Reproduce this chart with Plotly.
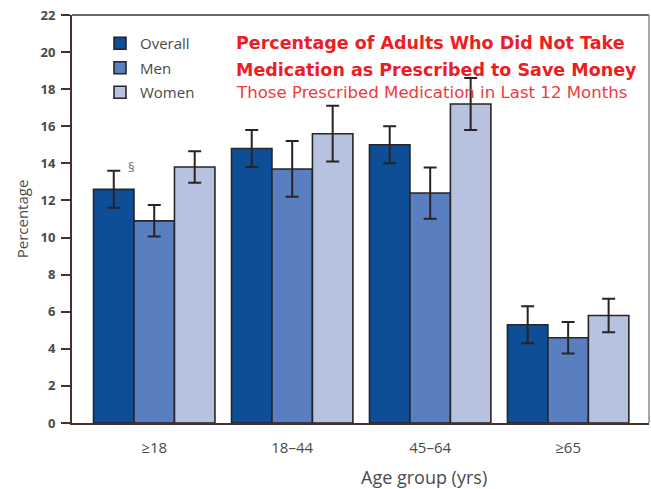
import plotly.graph_objects as go

age_groups = ["≥18", "18–44", "45–64", "≥65"]
series_names = ["Overall", "Men", "Women"]
overall = [12.6, 14.8, 15.0, 5.3]
men = [10.9, 13.7, 12.4, 4.6]
women = [13.8, 15.6, 17.2, 5.8]
overall_ci = [1.0, 1.0, 1.0, 1.0]
men_ci = [0.85, 1.5, 1.38, 0.85]
women_ci = [0.85, 1.5, 1.4, 0.9]
y_ticks = list(range(0, 23, 2))

colors = ["#0d4e97", "#5a7fc1", "#b6c2df"]
values = [overall, men, women]
errors = [overall_ci, men_ci, women_ci]

AXIS_COLOR = "#4a302c"
TEXT_GRAY = "#4a4a4a"
BODY_FONT = "Open Sans"

# plotting-area geometry in pixels, used to place paper-referenced items
W, H = 651, 489
L, R, T, B = 72, 2, 15, 66
PW, PH = W - L - R, H - T - B


def px(x):
    return (x - L) / PW


def py(y):
    return 1 - (y - T) / PH


fig = go.Figure()
for i, name in enumerate(series_names):
    fig.add_trace(go.Bar(
        name=name,
        x=age_groups,
        y=values[i],
        marker=dict(color=colors[i], line=dict(color="#262626", width=1.6)),
        error_y=dict(type="data", array=errors[i], visible=True,
                     color="#2b2222", thickness=2, width=6.5),
        legendgroup=name,
    ))

# footnote marker above the overall estimate for all adults
fig.add_annotation(x=age_groups[0], y=overall[0] + overall_ci[0], xref="x", yref="y",
                   text="§", showarrow=False, xshift=-23, yshift=4,
                   font=dict(family=BODY_FONT, size=13, color="#666666"))

# chart heading
title_lines = [
    ("Percentage of Adults Who Did Not Take", True, 43),
    ("Medication as Prescribed to Save Money", True, 70),
    ("Those Prescribed Medication in Last 12 Months", False, 92),
]
for text, bold, ypix in title_lines:
    fig.add_annotation(
        x=px(234), y=py(ypix), xref="paper", yref="paper",
        xanchor="left", yanchor="middle", showarrow=False,
        text=f"<b>{text}</b>" if bold else text,
        font=dict(family="DejaVu Sans", size=17.5 if bold else 16.6,
                  color="#ee1c24" if bold else "#f03a3a"),
    )

# x-axis title, centred a little right of the plotting area
fig.add_annotation(x=px(424), y=py(477), xref="paper", yref="paper",
                   xanchor="center", yanchor="middle", showarrow=False,
                   text="Age group (yrs)",
                   font=dict(family=BODY_FONT, size=18, color=TEXT_GRAY))

# gray frame along the top and right edges of the plotting area
fig.add_shape(type="line", xref="paper", yref="paper", x0=0, x1=1, y0=1, y1=1,
              line=dict(color="#6b6b6b", width=2))
fig.add_shape(type="line", xref="paper", yref="paper", x0=1, x1=1, y0=0, y1=1,
              line=dict(color="#8a8a8a", width=1.5))

fig.update_layout(
    width=W, height=H,
    margin=dict(l=L, r=R, t=T, b=B),
    paper_bgcolor="white", plot_bgcolor="white",
    barmode="group", bargap=0.12, bargroupgap=0,
    showlegend=True,
    legend=dict(x=px(100), y=py(27), xanchor="left", yanchor="top",
                bgcolor="rgba(0,0,0,0)", font=dict(family=BODY_FONT, size=15, color=TEXT_GRAY),
                traceorder="grouped", tracegroupgap=2, itemwidth=30),
    xaxis=dict(
        range=[-0.596, 3.586], showline=True, linecolor=AXIS_COLOR, linewidth=2,
        ticks="", ticklabelstandoff=10,
        tickfont=dict(family=BODY_FONT, size=15, color=TEXT_GRAY),
        fixedrange=True,
    ),
    yaxis=dict(
        range=[0, 22], tickvals=y_ticks, showline=True, linecolor=AXIS_COLOR, linewidth=2,
        ticks="outside", ticklen=9, tickwidth=2, tickcolor=AXIS_COLOR,
        ticklabelstandoff=3, showgrid=False, zeroline=False,
        tickfont=dict(family=BODY_FONT, size=13, color=TEXT_GRAY, weight="bold"),
        title=dict(text="Percentage", standoff=8,
                   font=dict(family=BODY_FONT, size=15, color=TEXT_GRAY)),
        fixedrange=True,
    ),
)

fig.write_html("out.html")
